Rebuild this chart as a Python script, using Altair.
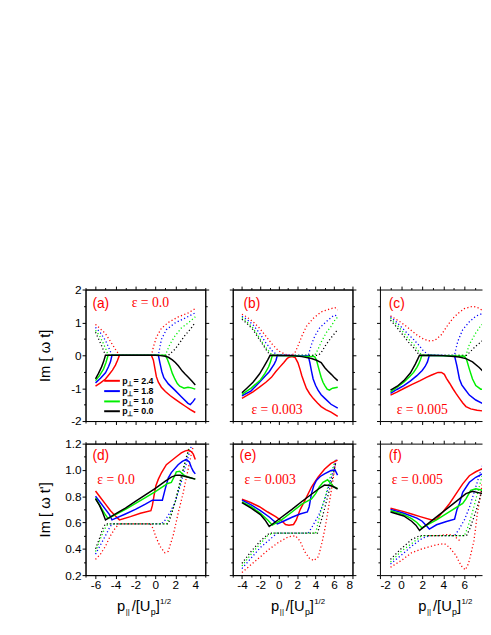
import altair as alt
import pandas as pd

# ---------------- data ----------------
# panel (a)  eps = 0.0, Im[w t]
a_red_s = [(-6,-0.94),(-5.5,-0.84),(-5.0,-0.72),(-4.6,-0.57),(-4.3,-0.45),(-4.0,-0.3),(-3.8,-0.16),(-3.6,0.0),(-0.4,0.0),(-0.2,-0.15),(-0.05,-0.4),(0.1,-0.65),(0.3,-0.82),(0.6,-0.97),(1.0,-1.1),(1.5,-1.23),(2.0,-1.34),(2.5,-1.45),(3.0,-1.55),(3.5,-1.65),(4.0,-1.74)]
a_blu_s = [(-6,-0.84),(-5.5,-0.7),(-5.0,-0.53),(-4.7,-0.35),(-4.5,-0.2),(-4.35,0.0),(0.3,0.0),(0.45,-0.22),(0.65,-0.5),(0.85,-0.68),(1.3,-0.87),(1.95,-1.06),(2.6,-1.26),(3.27,-1.46),(3.5,-1.5),(3.77,-1.41),(4.0,-1.31)]
a_grn_s = [(-6,-0.77),(-5.6,-0.62),(-5.2,-0.42),(-4.95,-0.22),(-4.74,0.0),(1.0,0.0),(1.2,-0.12),(1.45,-0.32),(1.7,-0.55),(1.95,-0.72),(2.2,-0.86),(2.44,-0.94),(2.87,-1.0),(3.27,-0.97),(3.6,-0.99),(4.0,-1.03)]
a_blk_s = [(-6,-0.72),(-5.7,-0.55),(-5.4,-0.36),(-5.2,-0.2),(-5.0,0.0),(0.0,0.0),(0.5,-0.01),(1.0,-0.03),(1.3,-0.06),(1.7,-0.14),(2.0,-0.22),(2.3,-0.32),(2.7,-0.48),(3.0,-0.58),(3.3,-0.67),(3.7,-0.8),(4.0,-0.9)]
a_red_d = [(-6,0.94),(-5.5,0.8),(-5.0,0.66),(-4.5,0.42),(-4.0,0.18),(-3.6,0.0),(-0.4,0.0),(-0.2,0.25),(0.1,0.55),(0.6,0.82),(1.3,1.0),(2.3,1.17),(3.3,1.29),(4.0,1.42)]
a_blu_d = [(-6,0.85),(-5.5,0.68),(-5.0,0.45),(-4.7,0.25),(-4.35,0.0),(0.3,0.0),(0.6,0.48),(1.1,0.78),(1.95,0.98),(2.9,1.12),(4.0,1.29)]
a_grn_d = [(-6,0.76),(-5.6,0.6),(-5.2,0.35),(-4.95,0.18),(-4.74,0.0),(1.0,0.0),(1.45,0.33),(1.95,0.58),(2.6,0.83),(3.27,0.98),(4.0,1.17)]
a_blk_d = [(-6,0.7),(-5.7,0.5),(-5.4,0.3),(-5.2,0.15),(-5.0,0.0),(1.3,0.0),(1.95,0.18),(2.44,0.38),(2.9,0.58),(3.6,0.83),(4.0,1.0)]

# panel (b)  eps = 0.003
b_red_s = [(-4,-1.31),(-3.5,-1.23),(-2.8,-1.11),(-2.1,-0.97),(-1.4,-0.82),(-0.8,-0.67),(-0.34,-0.5),(0.1,-0.36),(0.55,-0.22),(0.9,-0.1),(1.1,-0.06),(1.43,-0.04),(1.78,-0.07),(2.07,-0.22),(2.3,-0.42),(2.5,-0.62),(2.75,-0.82),(3.0,-1.01),(3.35,-1.17),(3.73,-1.31),(4.2,-1.45),(4.6,-1.56),(5.1,-1.65),(5.67,-1.73),(6.4,-1.86)]
b_blu_s = [(-4,-1.23),(-3.0,-1.08),(-2.1,-0.82),(-1.5,-0.64),(-1.04,-0.5),(-0.5,-0.27),(-0.3,-0.15),(-0.16,0.0),(3.2,-0.02),(3.37,-0.22),(3.55,-0.48),(3.73,-0.72),(4.0,-0.92),(4.26,-1.06),(4.6,-1.2),(5.0,-1.31),(5.67,-1.49),(6.4,-1.61)]
b_grn_s = [(-4,-1.19),(-3.0,-1.0),(-2.0,-0.75),(-1.5,-0.55),(-1.1,-0.35),(-0.9,-0.2),(-0.7,0.0),(3.9,-0.04),(4.1,-0.15),(4.26,-0.32),(4.45,-0.52),(4.6,-0.67),(4.8,-0.82),(5.0,-0.92),(5.25,-1.03),(5.5,-1.06),(5.7,-1.02),(5.85,-1.0),(6.4,-0.97)]
b_blk_s = [(-4,-1.14),(-3.5,-1.01),(-2.8,-0.82),(-2.1,-0.57),(-1.57,-0.32),(-1.2,-0.14),(-0.94,0.0),(1.43,-0.01),(2.5,-0.04),(3.55,-0.1),(4.1,-0.15),(4.6,-0.22),(5.0,-0.38),(5.3,-0.47),(5.7,-0.58),(6.0,-0.67),(6.4,-0.77)]
b_red_d = [(-4,1.25),(-3.5,1.17),(-2.8,1.02),(-2.1,0.83),(-1.4,0.58),(-0.7,0.33),(0.0,0.13),(0.7,0.03),(1.3,0.0),(1.7,0.05),(2.0,0.23),(2.5,0.58),(3.0,0.88),(3.73,1.12),(4.6,1.32),(5.67,1.42),(6.1,1.45),(6.4,1.38)]
b_blu_d = [(-4,1.19),(-3.5,1.1),(-2.8,0.93),(-2.1,0.68),(-1.4,0.38),(-0.7,0.13),(-0.16,0.0),(3.2,0.0),(3.55,0.33),(3.9,0.58),(4.43,0.83),(5.14,1.02),(6.0,1.22),(6.4,1.2)]
b_grn_d = [(-4,1.15),(-3.5,1.03),(-2.8,0.83),(-2.1,0.53),(-1.4,0.23),(-0.7,0.0),(3.9,0.0),(4.26,0.18),(4.6,0.4),(5.14,0.68),(5.67,0.88),(6.2,1.12),(6.4,1.15)]
b_blk_d = [(-4,1.1),(-3.5,0.98),(-2.8,0.78),(-2.1,0.48),(-1.4,0.18),(-0.94,0.0),(4.3,0.0),(4.6,0.08),(5.14,0.33),(5.67,0.53),(6.4,0.78)]

# panel (c)  eps = 0.005
c_red_s = [(-1,-1.21),(-0.4,-1.12),(0.26,-1.01),(1.0,-0.89),(1.81,-0.77),(2.4,-0.67),(2.9,-0.6),(3.5,-0.52),(3.83,-0.52),(4.1,-0.58),(4.3,-0.7),(4.6,-0.85),(4.9,-1.01),(5.2,-1.16),(5.53,-1.31),(5.85,-1.45),(6.15,-1.56),(6.6,-1.63),(7.2,-1.67),(7.7,-1.69),(8.5,-1.72)]
c_blu_s = [(-1,-1.16),(-0.4,-1.04),(0.26,-0.92),(0.9,-0.78),(1.5,-0.62),(2.0,-0.46),(2.28,-0.34),(2.5,-0.2),(2.68,0.0),(5.07,-0.02),(5.29,-0.32),(5.53,-0.72),(5.75,-0.9),(6.0,-1.01),(6.47,-1.21),(7.08,-1.36),(7.7,-1.46),(8.5,-1.58)]
c_grn_s = [(-1,-1.11),(-0.4,-0.98),(0.26,-0.82),(0.8,-0.65),(1.19,-0.52),(1.5,-0.37),(1.66,-0.27),(1.85,-0.12),(1.97,0.0),(6.0,-0.03),(6.2,-0.12),(6.47,-0.42),(6.77,-0.72),(7.08,-0.92),(7.55,-1.03),(8.5,-1.05)]
c_blk_s = [(-1,-1.06),(-0.36,-0.94),(0.26,-0.77),(0.88,-0.54),(1.35,-0.27),(1.6,-0.1),(1.75,0.0),(4.0,-0.01),(5.5,-0.05),(6.15,-0.1),(6.77,-0.2),(7.4,-0.37),(7.8,-0.5),(8.5,-0.7)]
c_red_d = [(-1,1.2),(-0.5,1.1),(0.0,1.0),(0.5,0.88),(1.0,0.75),(1.5,0.62),(2.1,0.5),(2.6,0.44),(3.2,0.45),(3.83,0.63),(4.45,0.93),(4.9,1.12),(5.38,1.27),(6.0,1.42),(6.77,1.49),(7.2,1.46),(7.7,1.37),(8.3,1.25)]
c_blu_d = [(-1,1.17),(-0.4,1.0),(0.26,0.78),(0.8,0.6),(1.19,0.48),(1.7,0.3),(2.12,0.13),(2.68,0.0),(5.07,0.0),(5.2,0.2),(5.38,0.43),(5.84,0.78),(6.47,1.02),(7.08,1.19),(7.7,1.27),(8.3,1.3)]
c_grn_d = [(-1,1.13),(-0.4,0.93),(0.26,0.68),(0.7,0.5),(1.19,0.33),(1.6,0.15),(1.97,0.0),(6.15,0.0),(6.47,0.33),(7.08,0.68),(7.55,0.9),(8.3,1.1)]
c_blk_d = [(-1,1.07),(-0.4,0.85),(0.26,0.58),(0.7,0.4),(1.19,0.23),(1.5,0.1),(1.75,0.0),(6.2,0.0),(6.47,0.08),(7.08,0.28),(7.55,0.4),(8.3,0.6)]

# panel (d)  eps = 0.0, Im[w t']
d_red_s = [(-6,0.84),(-5.6,0.8),(-5.0,0.74),(-4.5,0.69),(-4.0,0.65),(-3.6,0.62),(-2.5,0.645),(-1.5,0.67),(-0.45,0.69),(-0.3,0.73),(-0.1,0.82),(0.05,0.88),(0.3,0.93),(0.62,0.98),(1.1,1.04),(1.6,1.07),(2.1,1.1),(2.6,1.13),(3.0,1.145),(3.27,1.15),(3.6,1.14),(3.8,1.12),(4.0,1.08)]
d_blu_s = [(-6,0.8),(-5.5,0.75),(-5.0,0.7),(-4.6,0.66),(-4.35,0.62),(-3.0,0.665),(-2.0,0.7),(-1.0,0.74),(-0.3,0.77),(0.7,0.77),(1.0,0.86),(1.3,0.94),(1.6,0.98),(2.28,1.04),(2.7,1.065),(3.1,1.08),(3.4,1.06),(3.6,1.02),(3.8,0.99),(4.0,0.97)]
d_grn_s = [(-6,0.785),(-5.5,0.72),(-5.1,0.67),(-4.74,0.63),(-3.0,0.7),(-1.0,0.79),(0.0,0.835),(0.9,0.88),(1.15,0.895),(1.6,0.905),(1.9,0.95),(2.1,0.985),(2.44,0.99),(2.77,0.965),(3.1,0.95),(3.5,0.94),(4.0,0.93)]
d_blk_s = [(-6,0.78),(-5.6,0.73),(-5.3,0.68),(-5.0,0.62),(-4.0,0.665),(-3.0,0.71),(-2.0,0.76),(-1.0,0.81),(0.0,0.86),(1.0,0.915),(1.6,0.945),(2.1,0.96),(2.5,0.96),(3.0,0.95),(3.5,0.94),(4.0,0.93)]
d_red_d = [(-6,0.32),(-5.5,0.36),(-5.0,0.42),(-4.5,0.5),(-4.0,0.56),(-3.6,0.59),(-0.5,0.59),(-0.2,0.55),(0.0,0.5),(0.46,0.42),(0.95,0.37),(1.28,0.38),(1.78,0.5),(2.28,0.67),(2.77,0.82),(3.27,1.0),(3.6,1.12),(3.77,1.17)]
d_blu_d = [(-6,0.36),(-5.5,0.43),(-5.0,0.5),(-4.6,0.56),(-4.35,0.59),(0.6,0.59),(1.0,0.62),(1.5,0.68),(2.0,0.76),(2.5,0.88),(3.0,1.02),(3.4,1.13),(3.6,1.18)]
d_grn_d = [(-6,0.38),(-5.5,0.48),(-5.1,0.55),(-4.74,0.59),(1.1,0.59),(1.5,0.65),(2.0,0.76),(2.5,0.9),(3.0,1.06),(3.4,1.17)]
d_blk_d = [(-6,0.4),(-5.6,0.48),(-5.3,0.55),(-5.0,0.59),(1.3,0.59),(1.6,0.66),(2.0,0.76),(2.5,0.92),(3.0,1.07),(3.4,1.17)]

# panel (e)  eps = 0.003
e_red_s = [(-4,0.777),(-3,0.75),(-2.1,0.72),(-1.2,0.68),(-0.34,0.645),(0.37,0.61),(0.73,0.585),(1.1,0.58),(1.6,0.585),(1.9,0.62),(2.3,0.695),(2.85,0.77),(3.55,0.87),(4.26,0.944),(4.96,1.005),(5.67,1.05),(6.38,1.075)]
e_blu_s = [(-4,0.77),(-3,0.735),(-2,0.69),(-1,0.64),(-0.5,0.61),(-0.16,0.59),(0.5,0.61),(1.43,0.64),(2.3,0.665),(3.1,0.68),(3.3,0.72),(3.55,0.82),(3.8,0.88),(4.08,0.92),(4.5,0.95),(4.96,0.97),(5.67,0.995),(6.1,1.0),(6.38,0.96)]
e_grn_s = [(-4,0.757),(-3,0.72),(-2,0.67),(-1.2,0.62),(-0.7,0.58),(0.3,0.62),(1.43,0.68),(2.5,0.74),(3.55,0.78),(4.0,0.82),(4.4,0.87),(4.8,0.905),(5.3,0.925),(5.67,0.894),(6.0,0.87),(6.38,0.86)]
e_blk_s = [(-4,0.752),(-3,0.71),(-2,0.66),(-1.5,0.62),(-1.04,0.57),(0.0,0.625),(1.43,0.7),(2.5,0.76),(3.55,0.815),(4.3,0.855),(4.96,0.885),(5.67,0.88),(6.0,0.87),(6.38,0.855)]
e_red_d = [(-4,0.22),(-3,0.28),(-2,0.34),(-1,0.4),(0,0.45),(1,0.49),(1.8,0.5),(2.3,0.46),(2.8,0.38),(3.3,0.33),(3.8,0.31),(4.3,0.34),(4.7,0.45),(5.0,0.55),(5.3,0.67),(5.6,0.8),(5.9,0.93),(6.2,1.07)]
e_blu_d = [(-4,0.25),(-3,0.33),(-2,0.41),(-1,0.47),(-0.16,0.52),(3.2,0.52),(3.73,0.58),(4.43,0.67),(4.96,0.77),(5.5,0.89),(6.0,1.02),(6.3,1.09)]
e_grn_d = [(-4,0.27),(-3,0.36),(-2,0.44),(-1.2,0.5),(-0.7,0.52),(4.0,0.52),(4.6,0.695),(5.14,0.82),(5.67,0.97),(6.2,1.09)]
e_blk_d = [(-4,0.29),(-3,0.38),(-2,0.46),(-1.0,0.52),(4.2,0.52),(4.8,0.66),(5.3,0.795),(5.85,0.944),(6.2,1.06)]

# panel (f)  eps = 0.005
f_red_s = [(-1,0.708),(0.26,0.683),(1.0,0.665),(1.81,0.645),(2.9,0.62),(3.36,0.625),(3.98,0.683),(4.6,0.745),(5.22,0.82),(5.84,0.894),(6.47,0.956),(7.08,0.986),(7.7,1.01),(8.5,1.03)]
f_blu_s = [(-1,0.7),(0.26,0.67),(1.5,0.633),(2.0,0.61),(2.4,0.575),(2.68,0.55),(3.36,0.583),(4.3,0.608),(5.07,0.625),(5.3,0.7),(5.53,0.745),(5.84,0.83),(6.47,0.906),(7.08,0.944),(7.7,0.97),(8.5,0.98)]
f_grn_s = [(-1,0.69),(0.26,0.66),(1.0,0.63),(1.5,0.6),(1.97,0.56),(3.36,0.62),(4.6,0.683),(5.84,0.745),(6.15,0.78),(6.6,0.845),(7.08,0.857),(7.7,0.845),(8.5,0.83)]
f_blk_s = [(-1,0.68),(0.26,0.65),(1.0,0.61),(1.4,0.58),(1.75,0.54),(3.36,0.643),(4.9,0.74),(6.15,0.82),(6.77,0.838),(7.7,0.82),(8.5,0.8)]
f_red_d = [(-1,0.26),(0,0.31),(1,0.37),(2,0.4),(3.3,0.43),(4.1,0.44),(4.6,0.41),(5.2,0.35),(5.5,0.3),(5.8,0.26),(6.1,0.24),(6.4,0.29),(6.7,0.39),(6.9,0.46),(7.05,0.55),(7.2,0.65),(7.5,0.8),(7.8,0.95),(8.2,1.1)]
f_red2_d = [(2.6,0.5),(3.5,0.5),(4.5,0.51),(5.0,0.5),(5.6,0.46)]
f_blu_d = [(-1,0.285),(0,0.35),(1,0.42),(2,0.48),(2.68,0.5),(5.07,0.5),(5.5,0.55),(6.0,0.62),(6.5,0.72),(7.0,0.85),(7.5,0.98),(8.0,1.1)]
f_grn_d = [(-1,0.3),(0,0.38),(1,0.44),(1.97,0.5),(6.0,0.5),(6.3,0.56),(6.7,0.66),(7.1,0.78),(7.5,0.9),(8.0,1.05)]
f_blk_d = [(-1,0.32),(0,0.4),(1,0.47),(1.75,0.5),(6.2,0.5),(6.5,0.55),(6.9,0.64),(7.3,0.74),(7.7,0.85),(8.2,1.0)]

# axes tick values
x_ticks_ad = [-7,-6,-5,-4,-3,-2,-1,0,1,2,3,4,5]
x_ticks_be = [-5,-4,-3,-2,-1,0,1,2,3,4,5,6,7,8]
x_ticks_cf = [-2,-1,0,1,2,3,4,5,6,7]
y_ticks_top = [-2,-1.5,-1,-0.5,0,0.5,1,1.5,2]
y_ticks_bot = [0.2,0.3,0.4,0.5,0.6,0.7,0.8,0.9,1.0,1.1,1.2]

legend_labels = ["2.4", "1.8", "1.0", "0.0"]
legend_keys = ["red", "blue", "green", "black"]

COLOR_DOMAIN = ["red", "blue", "green", "black", "red2"]
COLOR_RANGE = ["#ff0000", "#0000ff", "#00ee00", "#000000", "#ff0000"]

SANS = "Liberation Sans"
SERIF = "Liberation Serif"
W, H = 122, 134
WC = 104  # third column is cut by the page edge


def frame(series):
    rows = []
    for key, pts in series:
        for i, (x, y) in enumerate(pts):
            rows.append({"x": x, "y": y, "c": key, "g": key, "i": i})
    return pd.DataFrame(rows)


def cond_size(test):
    return {"condition": {"test": test, "value": 3.5}, "value": 2}


def txt(s, x, y, size, color="black", font=SANS, weight="normal", baseline="alphabetic"):
    return alt.Chart(pd.DataFrame({"t": [s]})).mark_text(
        align="left", baseline=baseline, fontSize=size, font=font,
        color=color, fontWeight=weight
    ).encode(x=alt.value(x), y=alt.value(y), text="t:N")


def xtitle(x0):
    yb = 170.5
    return [
        txt("p", x0, yb, 15),
        txt("||", x0 + 9, yb + 3, 8),
        txt("/[U", x0 + 15, yb, 15),
        txt("p", x0 + 34.5, yb + 4, 9),
        txt("]", x0 + 39.5, yb, 15),
        txt("1/2", x0 + 44, yb - 7, 8),
    ]


HYPHEN = "replace(datum.label, '\u2212', '-')"


def panel(solid, dotted, xdom, xticks, ydom, yticks, ytest, yfmt, xlabels, ylabels,
          ytitle, title_pad, extras, width=W, cut=False):
    cscale = alt.Scale(domain=COLOR_DOMAIN, range=COLOR_RANGE)
    xs = alt.Scale(domain=xdom, nice=False, zero=False)
    ys = alt.Scale(domain=ydom, nice=False, zero=False)
    xtest = "abs(datum.value) % 2 == 0"
    common = dict(grid=False, domainColor="black", tickColor="black",
                  labelColor="black", labelFont=SANS, labelFontSize=12,
                  labelPadding=1, domainWidth=1, tickWidth=1)
    ax_bottom = alt.Axis(orient="bottom", values=xticks, labels=xlabels, format="d",
                         labelExpr="(" + xtest + ") ? " + HYPHEN + " : ''",
                         tickSize=cond_size(xtest), title=None, **common)
    ax_top = alt.Axis(orient="top", values=xticks, labels=False,
                      tickSize=cond_size(xtest), title=None, **common)
    ykw = dict(title=None)
    if ytitle:
        ykw = dict(title=ytitle, titleFont=SANS, titleFontSize=15,
                   titleFontWeight="normal", titleColor="black",
                   titlePadding=title_pad)
    ay_left = alt.Axis(orient="left", values=yticks, labels=ylabels, format=yfmt,
                       labelExpr="(" + ytest + ") ? " + HYPHEN + " : ''",
                       tickSize=cond_size(ytest), **ykw, **common)
    if cut:
        ay_right = alt.Axis(orient="right", values=yticks, labels=False, ticks=False,
                            domain=False, title=None, grid=False)
    else:
        ay_right = alt.Axis(orient="right", values=yticks, labels=False,
                            tickSize=cond_size(ytest), title=None, **common)

    dotted_ch = alt.Chart(frame(dotted)).mark_line(
        strokeDash=[1.2, 2.4], strokeWidth=1.3, clip=True
    ).encode(
        x=alt.X("x:Q", scale=xs, axis=ax_top),
        y=alt.Y("y:Q", scale=ys, axis=ay_right),
        color=alt.Color("c:N", scale=cscale, legend=None),
        detail="g:N",
        order="i:Q",
    )
    solid_ch = alt.Chart(frame(solid)).mark_line(
        strokeWidth=1.5, clip=True
    ).encode(
        x=alt.X("x:Q", scale=xs, axis=ax_bottom),
        y=alt.Y("y:Q", scale=ys, axis=ay_left),
        color=alt.Color("c:N", scale=cscale, legend=None),
        detail="g:N",
        order="i:Q",
    )
    ch = alt.layer(dotted_ch, solid_ch, *extras).resolve_axis(
        x="independent", y="independent"
    ).properties(width=width, height=H)
    if cut:
        ch = ch.properties(view=alt.ViewBackground(stroke="transparent"))
    else:
        ch = ch.properties(view=alt.ViewBackground(stroke="black", strokeWidth=1))
    return ch


RED = "#ff0000"
ytop_test = "abs(datum.value) % 1 == 0"
ybot_test = "abs(round(datum.value * 10)) % 2 == 0"

# legend for panel (a)
legend_layers = []
rows_y = [93, 103.5, 114, 124]
for key, lab, yy in zip(legend_keys, legend_labels, rows_y):
    col = COLOR_RANGE[COLOR_DOMAIN.index(key)]
    legend_layers.append(
        alt.Chart(pd.DataFrame({"k": [key]})).mark_rule(color=col, strokeWidth=2).encode(
            x=alt.value(19), x2=alt.value(35), y=alt.value(yy))
    )
    legend_layers.append(txt("p", 37.5, yy + 3, 9, weight="bold"))
    legend_layers.append(txt("\u22a5", 42.5, yy + 5, 7, weight="bold"))
    legend_layers.append(txt("= " + lab, 49, yy + 3, 9, weight="bold"))

pa = panel([("red", a_red_s), ("blue", a_blu_s), ("green", a_grn_s), ("black", a_blk_s)],
           [("red", a_red_d), ("blue", a_blu_d), ("green", a_grn_d), ("black", a_blk_d)],
           [-7, 5], x_ticks_ad, [-2, 2], y_ticks_top, ytop_test, ".0f", False, True,
           "Im [ \u03c9 t]", 18.7,
           [txt("(a)", 7, 18.5, 14, RED), txt("\u03b5 = 0.0", 47, 18, 14, RED, SERIF)] + legend_layers)
pb = panel([("red", b_red_s), ("blue", b_blu_s), ("green", b_grn_s), ("black", b_blk_s)],
           [("red", b_red_d), ("blue", b_blu_d), ("green", b_grn_d), ("black", b_blk_d)],
           [-5, 8], x_ticks_be, [-2, 2], y_ticks_top, ytop_test, ".0f", False, False,
           None, 0,
           [txt("(b)", 11, 18.5, 14, RED), txt("\u03b5 = 0.003", 19, 127, 14, RED, SERIF)])
pc = panel([("red", c_red_s), ("blue", c_blu_s), ("green", c_grn_s), ("black", c_blk_s)],
           [("red", c_red_d), ("blue", c_blu_d), ("green", c_grn_d), ("black", c_blk_d)],
           [-2, 7.67], x_ticks_cf, [-2, 2], y_ticks_top, ytop_test, ".0f", False, False,
           None, 0,
           [txt("(c)", 9, 18.5, 14, RED), txt("\u03b5 = 0.005", 17, 127, 14, RED, SERIF)],
           width=WC, cut=True)
pd_ = panel([("red", d_red_s), ("blue", d_blu_s), ("green", d_grn_s), ("black", d_blk_s)],
            [("red", d_red_d), ("blue", d_blu_d), ("green", d_grn_d), ("black", d_blk_d)],
            [-7, 5], x_ticks_ad, [0.2, 1.2], y_ticks_bot, ybot_test, ".1f", True, True,
            "Im [ \u03c9 t']", 12.7,
            [txt("(d)", 7, 16.5, 14, RED), txt("\u03b5 = 0.0", 12, 41, 14, RED, SERIF)] + xtitle(32))
pe = panel([("red", e_red_s), ("blue", e_blu_s), ("green", e_grn_s), ("black", e_blk_s)],
           [("red", e_red_d), ("blue", e_blu_d), ("green", e_grn_d), ("black", e_blk_d)],
           [-5, 8], x_ticks_be, [0.2, 1.2], y_ticks_bot, ybot_test, ".1f", True, False,
           None, 0,
           [txt("(e)", 7, 16.5, 14, RED), txt("\u03b5 = 0.003", 12, 41, 14, RED, SERIF)] + xtitle(39))
pf = panel([("red", f_red_s), ("blue", f_blu_s), ("green", f_grn_s), ("black", f_blk_s)],
           [("red", f_red_d), ("red2", f_red2_d), ("blue", f_blu_d), ("green", f_grn_d), ("black", f_blk_d)],
           [-2, 7.67], x_ticks_cf, [0.2, 1.2], y_ticks_bot, ybot_test, ".1f", True, False,
           None, 0,
           [txt("(f)", 9, 16.5, 14, RED), txt("\u03b5 = 0.005", 12, 41, 14, RED, SERIF)] + xtitle(39),
           width=WC, cut=True)

chart = alt.concat(pa, pb, pc, pd_, pe, pf, columns=3, bounds="flush",
                   spacing={"row": 23, "column": 28}).properties(
    padding={"left": 29, "top": 274, "right": 0, "bottom": 5},
    background="white",
)

chart.save("out.html", embed_options={"renderer": "svg", "actions": False})
